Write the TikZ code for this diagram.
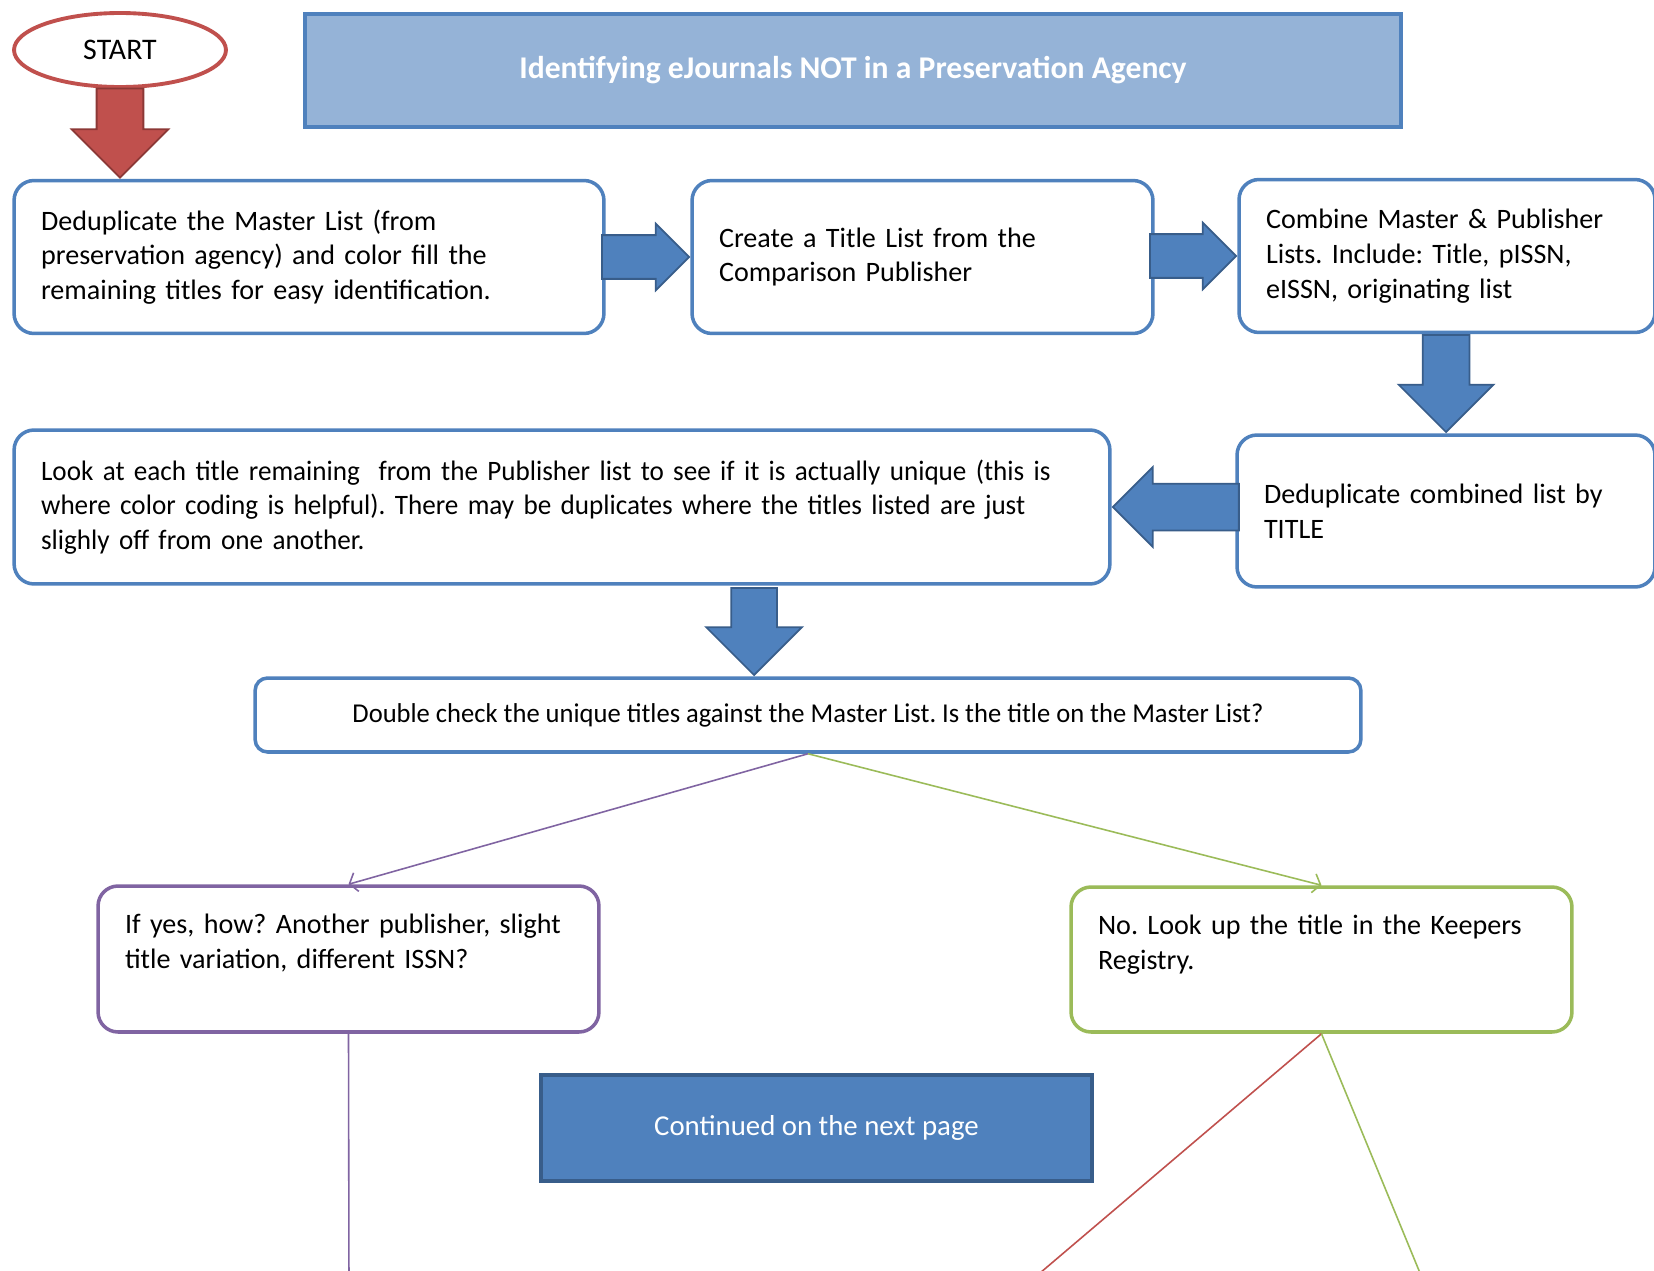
\documentclass[tikz,border=0pt]{standalone}
\usepackage{fontspec}
\setmainfont{Carlito}
\newfontfamily\narrowfont[FakeStretch=0.965]{Carlito}
\newfontfamily\checkfont[FakeStretch=0.975]{Carlito}
\usepackage{tikz}
\usetikzlibrary{positioning, calc}
\usetikzlibrary{shapes.geometric, shapes.arrows, arrows.meta}
\definecolor{myblue}{HTML}{4F81BD}
\definecolor{mynavy}{HTML}{385D8A}
\definecolor{mysky}{HTML}{95B3D7}
\definecolor{myred}{HTML}{C0504D}
\definecolor{mydred}{HTML}{8C3836}
\definecolor{mypurp}{HTML}{8064A2}
\definecolor{mygreen}{HTML}{9BBB59}
\tikzstyle{stepbox} = [rectangle, rounded corners=0.4cm, draw=myblue, line width=2pt, fill=white, align=left, inner xsep=0.54cm, text=black, font=\fontsize{16}{19.8}\selectfont]
\tikzstyle{yesbox} = [stepbox, draw=mypurp]
\tikzstyle{nobox} = [stepbox, draw=mygreen]
\tikzstyle{banner} = [rectangle, draw=myblue, line width=2pt, fill=mysky, text=white, font=\fontsize{18}{21}\selectfont\bfseries]
\tikzstyle{startnode} = [ellipse, draw=myred, line width=2.2pt, fill=white, minimum width=4.24cm, minimum height=1.48cm, font=\fontsize{17}{20}\selectfont]
\tikzstyle{fatarrow} = [single arrow, draw=mynavy, fill=myblue, line width=1pt, inner xsep=0pt, inner ysep=0.42cm, single arrow head extend=0.23cm, anchor=tip]
\tikzstyle{redarrow} = [fatarrow, draw=mydred, fill=myred, rotate=-90, inner ysep=0.45cm, single arrow head extend=0.5cm, minimum height=1.78cm]
\tikzstyle{yesline} = [mypurp, line width=0.9pt, -{Straight Barb[length=4pt,width=11pt]}]
\tikzstyle{noline} = [mygreen, line width=0.9pt, -{Straight Barb[length=4pt,width=11pt]}]

\begin{document}
\frenchspacing
\begin{tikzpicture}[x=0.02cm, y=-0.02cm]
	\useasboundingbox (0,0) rectangle (1654,1271);
	\fill[white] (0,0) rectangle (1654,1271);
	\clip (0,0) rectangle (1654,1271);
	\node (start)[startnode] at (120,50) {START};
	\node (title)[banner, minimum width=21.92cm, minimum height=2.26cm] at (853,70.5) {Identifying eJournals NOT in a Preservation Agency};
	\node (box1)[stepbox, text width=10.72cm, minimum height=3.06cm] at (309,257) {Deduplicate the Master List (from\\preservation agency) and color fill the\\remaining titles for easy identification.};
	\node (box2)[stepbox, text width=8.14cm, minimum height=3.06cm] at (922.5,257) {Create a Title List from the\\Comparison Publisher};
	\node (box3)[stepbox, text width=7.24cm, minimum height=3.06cm] at (1447,256) {Combine Master \& Publisher\\Lists. Include: Title, pISSN,\\eISSN, originating list};
	\node (box4)[stepbox, text width=7.28cm, minimum height=3.04cm] at (1446,511) {Deduplicate combined list by\\TITLE};
	\node (box5)[stepbox, text width=20.84cm, minimum height=3.08cm, font=\fontsize{16}{19.8}\narrowfont] at (562,507) {Look at each title remaining\ \ from the Publisher list to see if it is actually unique (this is\\where color coding is helpful). There may be duplicates where the titles listed are just\\slighly off from one another.};
	\node (box6)[stepbox, rounded corners=0.25cm, align=center, minimum width=22.12cm, minimum height=1.48cm, font=\fontsize{15.5}{18}\checkfont] at (808,715) {Double check the unique titles against the Master List. Is the title on the Master List?};
	\node (yes)[yesbox, text width=8.94cm, minimum height=2.92cm] at (348.5,959) {If yes, how? Another publisher, slight\\title variation, different ISSN?\\\mbox{}};
	\node (no)[nobox, text width=8.94cm, minimum height=2.9cm] at (1321.5,959.5) {No. Look up the title in the Keepers\\Registry.\\\mbox{}};
	\node (next)[rectangle, draw=mynavy, line width=2pt, fill=myblue, text=white, minimum width=11.02cm, minimum height=2.12cm, font=\fontsize{16.4}{19}\selectfont] at (816.5,1128) {Continued on the next page};
	% block arrows
	\node (a01)[redarrow] at (start.south |- box1.north) {};
	\node (a12)[fatarrow, minimum height=1.74cm] at (box2.west) {};
	\node (a23)[fatarrow, minimum height=1.72cm] at (box3.west) {};
	\node (a34)[fatarrow, rotate=-90, inner ysep=0.45cm, single arrow head extend=0.48cm, minimum height=1.94cm] at (box4.north) {};
	\node (a45)[fatarrow, rotate=180, inner ysep=0.45cm, single arrow head extend=0.33cm, minimum height=2.52cm] at (box5.east) {};
	\node (a56)[fatarrow, rotate=-90, inner ysep=0.44cm, single arrow head extend=0.5cm, minimum height=1.74cm] at ([xshift=-1.08cm]box6.north) {};
	% thin connectors
	\coordinate (yesend) at (349,1290);
	\coordinate (redend) at (1020,1290);
	\coordinate (greenend) at (1427,1290);
	\draw [yesline] (box6.south) -- (yes.north);
	\draw [noline] (box6.south) -- (no.north);
	\draw [mypurp, line width=0.9pt] (yes.south) -- (yesend);
	\draw [myred, line width=0.9pt] (no.south) -- (redend);
	\draw [mygreen, line width=0.9pt] (no.south) -- (greenend);
\end{tikzpicture}
\end{document}
